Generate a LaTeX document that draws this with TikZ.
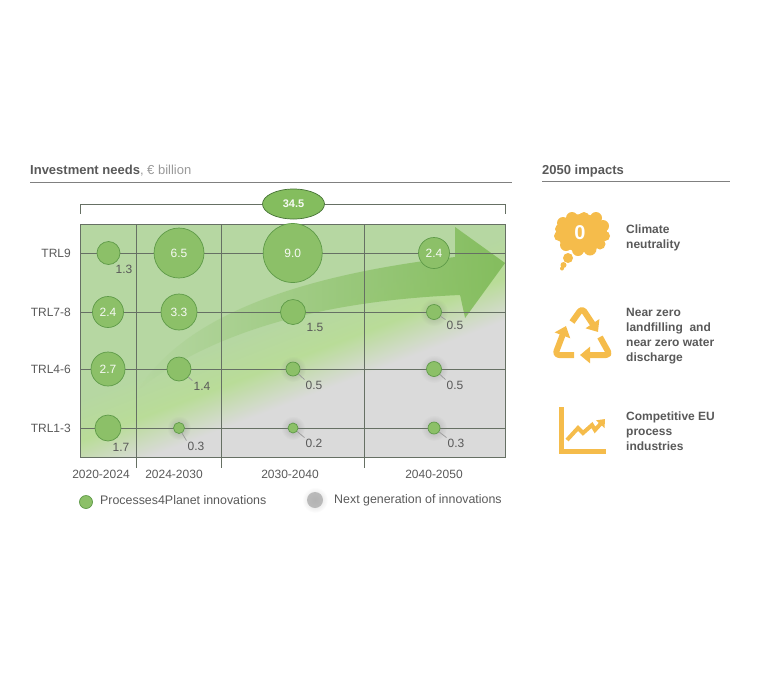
\documentclass[tikz,border=0pt]{standalone}
\usepackage{fontspec}
\setmainfont{Liberation Sans}
\usepackage{tikz}
\usetikzlibrary{shapes.geometric,arrows.meta,fadings}
\definecolor{txtgray}{HTML}{595959}
\definecolor{linegray}{HTML}{667064}
\definecolor{bubgreen}{HTML}{8CC068}
\definecolor{bubline}{HTML}{5E9A48}
\definecolor{plotgreen}{HTML}{B6D7A2}
\definecolor{plotmid}{HTML}{B9DC98}
\definecolor{plotgray}{HTML}{DADADA}
\definecolor{arrowgreen}{HTML}{84BD5E}
\definecolor{amber}{HTML}{F5BC4B}
\pgfdeclareverticalshading{plotbg}{100bp}{color(0bp)=(plotgray); color(48bp)=(plotgray); color(50.5bp)=(plotmid); color(53bp)=(plotgreen); color(100bp)=(plotgreen)}
\tikzfading[name=arrowfade, left color=transparent!100, right color=transparent!0]
\tikzfading[name=halofade, inner color=transparent!55, outer color=transparent!100]
\tikzstyle{bubble} = [circle, draw=bubline, fill=bubgreen, line width=0.7pt, inner sep=0pt,
    text=white!92!bubgreen, font=\fontsize{12}{14}\selectfont]
\tikzstyle{lab} = [text=txtgray, font=\fontsize{12}{14}\selectfont, inner sep=1pt]
\tikzstyle{leglab} = [lab, anchor=west, font=\fontsize{12.4}{14}\selectfont]
\tikzstyle{head} = [anchor=base west, text=txtgray, font=\bfseries\fontsize{13}{15}\selectfont, inner sep=0pt]
\tikzstyle{impact} = [anchor=west, align=left, text=txtgray, inner sep=0pt,
    font=\bfseries\fontsize{12}{15}\selectfont]
\tikzstyle{halo} = [fill=gray, path fading=halofade]
\tikzstyle{grid} = [draw=linegray, line width=1pt]
\tikzstyle{leader} = [draw=gray!80, line width=0.7pt]
\tikzstyle{icon} = [draw=amber, line width=6pt, line join=round, rounded corners=4pt,
    -{Triangle[width=16pt,length=10pt]}]
\begin{document}
\begin{tikzpicture}[x=1pt, y=-1pt]
        \useasboundingbox (0,0) rectangle (760,678);
        % headings
        \node [head] (invest) at (30,174) {Investment needs\textmd{\textcolor{gray!80}{, € billion}}};
        \node [head] (impacts) at (542,174) {2050 impacts};
        \coordinate (investend) at (512,182);
        \coordinate (impactsend) at (730,181);
        \draw [grid, draw=gray] (30,182) -- (investend);
        \draw [grid, draw=gray] (542,181) -- (impactsend);
        % plot background
        \begin{scope}
            \clip (80,224) rectangle (505,457);
            \shade [shading=plotbg, shading angle=21] (-100,-35) rectangle (700,765);
        \end{scope}
        % big arrow
        \fill [arrowgreen, path fading=arrowfade] (138,390) .. controls (185,315) and (300,275) .. (455,257)
            -- (455,227) -- (505,263) -- (465,318) -- (460,295)
            .. controls (340,300) and (220,325) .. cycle;
        % grid lines
        \draw [grid] (80,224) rectangle (505,457);
        \foreach \y in {253,312,369,428}
            \draw [grid] (80,\y) -- (505,\y);
        \foreach \x in {136,221,364}
            \draw [grid] (\x,224) -- (\x,468);
        % total bracket
        \node [bubble, ellipse, minimum width=62pt, minimum height=30pt, draw=bubline!75!black, fill=arrowgreen,
            font=\bfseries\fontsize{11}{13}\selectfont] (total) at (293.5,204) {34.5};
        \draw [grid, line width=0.8pt] (total) -- (80,204) -- (80,214);
        \draw [grid, line width=0.8pt] (total) -- (505,204) -- (505,214);
        % row and column labels
        \foreach \name/\y/\txt in {r9/253/TRL9, r78/312/TRL7-8, r46/369/TRL4-6, r13/428/TRL1-3}
            \node [lab, anchor=east] (\name) at (72,\y) {\txt};
        \foreach \name/\x/\txt in {c1/101/2020-2024, c2/174/2024-2030, c3/290/2030-2040, c4/434/2040-2050}
            \node [lab] (\name) at (\x,474) {\txt};
        % halos
        \foreach \x/\y/\r in {434/312/14, 293/369/13, 434/369/14, 179/428/12, 293/428/12, 434/428/13}
            \fill [halo] (\x,\y) circle (\r);
        % bubbles with the value inside
        \foreach \name/\x/\y/\r/\val in {b1/179/253/25/6.5, b2/292.7/253/29.5/9.0, b3/434/253/15.5/2.4,
                b4/108/312/15.5/2.4, b5/179/312/18/3.3, b6/108/369/17/2.7}
            \node [bubble, minimum size=2*\r pt] (\name) at (\x,\y) {\val};
        % bubbles with the value beside
        \foreach \name/\x/\y/\r/\lx/\ly/\val in {s1/108.5/253/11.5/124/269/1.3, s2/293/312/12.5/315/327/1.5, s3/108/428/13/121/447/1.7}
        {
            \node [bubble, minimum size=2*\r pt] (\name) at (\x,\y) {};
            \node [lab] (\name l) at (\lx,\ly) {\val};
        }
        \foreach \name/\x/\y/\r/\lx/\ly/\val in {t1/434/312/7.5/455/325/0.5, t2/179/369/12/202/386/1.4, t3/293/369/7/314/385/0.5,
                t4/434/369/7.5/455/385/0.5, t5/179/428/5.5/196/446/0.3, t6/293/428/5/314/443/0.2, t7/434/428/6/456/443/0.3}
        {
            \node [bubble, minimum size=2*\r pt] (\name) at (\x,\y) {};
            \node [lab] (\name l) at (\lx,\ly) {\val};
            \path [leader] (\name) -- (\name l.north west);
        }
        % legend
        \node [bubble, minimum size=13pt] (legp) at (86,502) {};
        \node [leglab] (legptxt) at (99,500) {Processes4Planet innovations};
        \fill [gray!50] (315,500) circle (8);
        \fill [halo, fill=gray!70] (315,500) circle (13);
        \node [leglab] (legntxt) at (333,500) {Next generation of innovations};
        % cloud icon
        \fill [amber] (582,233) ellipse (25 and 19);
        \foreach \x/\y/\r in {563/223/6, 572/218/6, 584/217.5/5.5, 596/218/6, 603/226/6, 605/236/5, 600/244/5.5, 590/249/6.5,
                578/250/6, 566/245/6, 559/236/5, 560/229/5, 568/258/5, 563.5/265/3, 562/268.5/2}
            \fill [amber] (\x,\y) circle (\r);
        \node [text=white, inner sep=0pt, font=\bfseries\fontsize{20}{22}\selectfont] (zero) at (580,233) {0};
        % recycle icon
        \draw [icon] (572,322) -- (582,308) -- (598,332);
        \draw [icon] (574,355) -- (555,355) -- (566,326);
        \draw [icon] (600,337) -- (610,355) -- (580,355);
        \node [impact] (clim) at (626,237.5) {Climate\\neutrality};
        \node [impact] (zerow) at (626,336.5) {Near zero\\landfilling~ and\\near zero water\\discharge};
        \node [impact] (comp) at (626,431) {Competitive EU\\process\\industries};
        % chart icon
        \draw [draw=amber, line width=5pt] (561,407) -- (561,451) -- (606,451);
        \draw [draw=amber, line width=4pt, -{Triangle[width=11pt,length=7pt]}] (567,440) -- (578,428) -- (583,433) -- (592,425) -- (595,430) -- (605,419);
    \end{tikzpicture}
\end{document}
